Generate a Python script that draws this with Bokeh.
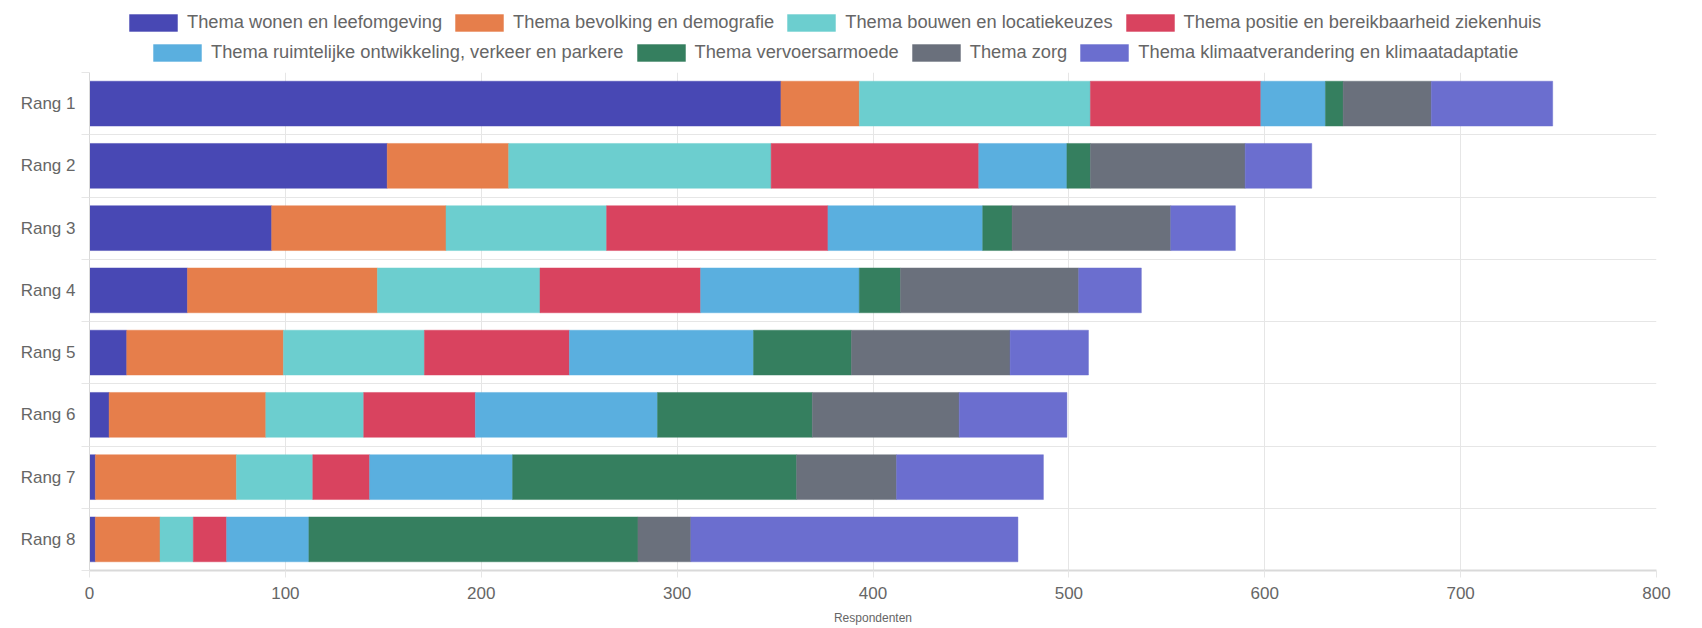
from bokeh.plotting import figure
from bokeh.layouts import column
from bokeh.models import ColumnDataSource, Range1d, FixedTicker, Legend, LegendItem
from bokeh.embed import file_html
from bokeh.resources import INLINE

ranks = ["Rang 1", "Rang 2", "Rang 3", "Rang 4", "Rang 5", "Rang 6", "Rang 7", "Rang 8"]
themes = [
    "Thema wonen en leefomgeving",
    "Thema bevolking en demografie",
    "Thema bouwen en locatiekeuzes",
    "Thema positie en bereikbaarheid ziekenhuis",
    "Thema ruimtelijke ontwikkeling, verkeer en parkere",
    "Thema vervoersarmoede",
    "Thema zorg",
    "Thema klimaatverandering en klimaatadaptatie",
]
wonen = [353, 152, 93, 50, 19, 10, 3, 3]
bevolking = [40, 62, 89, 97, 80, 80, 72, 33]
bouwen = [118, 134, 82, 83, 72, 50, 39, 17]
positie = [87, 106, 113, 82, 74, 57, 29, 17]
ruimtelijk = [33, 45, 79, 81, 94, 93, 73, 42]
vervoer = [9, 12, 15, 21, 50, 79, 145, 168]
zorg = [45, 79, 81, 91, 81, 75, 51, 27]
klimaat = [62, 34, 33, 32, 40, 55, 75, 167]
colors = ["#4848b4", "#e67e4b", "#6ccecf", "#d9435f", "#5aafdf", "#357f5f", "#6a707c", "#6b6ecf"]
xticks = [0, 100, 200, 300, 400, 500, 600, 700, 800]

keys = ["wonen", "bevolking", "bouwen", "positie", "ruimtelijk", "vervoer", "zorg", "klimaat"]
ypos = [i + 1 for i in range(len(ranks))]
source = ColumnDataSource(dict(y=ypos, wonen=wonen, bevolking=bevolking, bouwen=bouwen,
                               positie=positie, ruimtelijk=ruimtelijk, vervoer=vervoer,
                               zorg=zorg, klimaat=klimaat))

FONT = "Liberation Sans"
GRID = "#e6e6e6"
TXT = "#666666"

# ---- legend strip (hidden copy of the stack only feeds the legend swatches) ----
pl = figure(width=1702, height=64, output_backend="svg", toolbar_location=None,
            x_range=Range1d(0, 800), y_range=Range1d(len(ranks) + 0.5, 0.5),
            x_axis_location=None, y_axis_location=None, min_border=0)
pl.outline_line_color = None
pl.grid.visible = False
leg_renderers = pl.hbar_stack(keys, y="y", height=0.72, color=colors, source=source,
                              line_alpha=0.45, line_width=1)
for r in leg_renderers:
    r.visible = False
items = [LegendItem(label=t, renderers=[r]) for t, r in zip(themes, leg_renderers)]


def make_legend(its, loc):
    # bar swatches are drawn inset by 10% of the glyph box on each side
    return Legend(items=its, orientation="horizontal", location=loc,
                  glyph_width=60, glyph_height=21, label_standoff=4, spacing=7,
                  padding=0, margin=0, border_line_color=None,
                  background_fill_alpha=0, inactive_fill_alpha=0,
                  label_text_font=FONT,
                  label_text_font_size="18.3px", label_text_color=TXT, label_height=20)


pl.add_layout(make_legend(items[:4], (34, 31)), "center")
pl.add_layout(make_legend(items[4:], (58, 1)), "center")

# ---- main chart ----
p = figure(width=1702, height=564, output_backend="svg", toolbar_location=None,
           x_range=Range1d(0, 800), y_range=Range1d(len(ranks) + 0.5, 0.5),
           min_border_left=89, min_border_right=46, min_border_top=8, min_border_bottom=58)
p.outline_line_color = None

p.hbar_stack(keys, y="y", height=0.72, color=colors, source=source,
             line_alpha=0.45, line_width=1)

boundaries = [i + 0.5 for i in range(len(ranks) + 1)]

p.xaxis.ticker = FixedTicker(ticks=xticks)
p.xaxis.major_tick_out = 7
p.xaxis.major_tick_in = 0
p.xaxis.major_tick_line_color = GRID
p.xaxis.minor_tick_line_color = None
p.xaxis.axis_line_color = "#d9d9d9"
p.xaxis.axis_line_width = 2
p.xaxis.major_label_text_font = FONT
p.xaxis.major_label_text_font_size = "17px"
p.xaxis.major_label_text_color = TXT
p.xaxis.major_label_standoff = 9
p.xaxis.axis_label = "Respondenten"
p.xaxis.axis_label_text_font = FONT
p.xaxis.axis_label_text_font_size = "12px"
p.xaxis.axis_label_text_font_style = "normal"
p.xaxis.axis_label_text_color = TXT
p.xaxis.axis_label_standoff = 9

p.yaxis.ticker = FixedTicker(ticks=ypos, minor_ticks=boundaries)
p.yaxis.major_label_overrides = {i + 1: r for i, r in enumerate(ranks)}
p.yaxis.major_tick_out = 0
p.yaxis.major_tick_in = 0
p.yaxis.minor_tick_out = 8
p.yaxis.minor_tick_in = 0
p.yaxis.minor_tick_line_color = GRID
p.yaxis.axis_line_color = "#d9d9d9"
p.yaxis.major_label_text_font = FONT
p.yaxis.major_label_text_font_size = "17px"
p.yaxis.major_label_text_color = TXT
p.yaxis.major_label_standoff = 6

p.xgrid.grid_line_color = GRID
p.ygrid.ticker = FixedTicker(ticks=boundaries)
p.ygrid.grid_line_color = GRID

layout = column(pl, p, spacing=0)
open("out.html", "w").write(file_html(layout, INLINE))
